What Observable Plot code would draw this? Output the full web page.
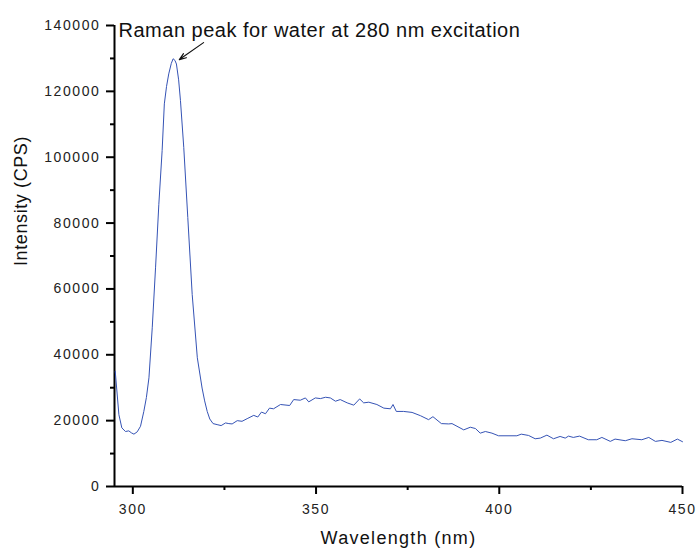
<!DOCTYPE html>
<html><head><meta charset="utf-8">
<script src="https://cdn.jsdelivr.net/npm/d3@7"></script>
<script src="https://cdn.jsdelivr.net/npm/@observablehq/plot@0.6"></script>
<style>
body{margin:0;background:#fff;}
#chart svg{display:block;}
#chart [aria-label="x-axis tick label"] text{letter-spacing:1.6px;}
#chart [aria-label="y-axis tick label"] text{letter-spacing:1.6px;}
</style>
</head><body><div id="chart"></div>
<script>
const wavelength = [295.2,296.2,297.0,298.0,298.9,299.6,300.3,301.2,302.1,303.0,303.7,304.4,305.3,306.2,307.1,308.0,308.6,309.2,309.8,310.5,311.0,311.5,311.9,312.5,313.0,313.9,315.0,316.2,317.6,318.9,319.6,320.3,321.0,321.9,323.0,324.1,325.3,326.2,327.1,328.5,329.8,331.2,333.0,334.1,335.1,336.2,337.3,338.4,340.3,342.8,343.9,345.7,347.1,348.0,349.8,351.2,352.6,353.9,355.3,356.6,358.5,360.3,361.9,363.0,364.4,366.6,368.5,370.3,371.0,371.9,373.9,376.2,378.5,380.7,381.9,384.2,386.2,387.1,390.3,392.1,393.5,394.8,396.2,398.0,399.8,404.8,406.0,408.0,409.8,411.2,413.0,414.8,416.6,418.0,418.9,420.2,421.9,424.3,426.6,428.0,430.3,431.6,434.4,436.2,438.9,440.8,442.6,444.4,446.8,448.6,450.0];
const intensity = [35000,21800,17800,16700,16900,16300,15900,16600,18300,22800,27000,33000,48200,66400,85700,102000,116200,121500,125300,128500,129900,129400,128300,123500,117200,103000,81700,58300,39100,29900,26000,22800,20500,19100,18800,18500,19300,19100,19000,20000,19800,20600,21600,21100,22600,22100,23800,23600,24900,24600,26400,26200,26900,25700,26900,26700,27100,26900,25900,26400,25400,24700,26600,25400,25600,24900,23800,23600,24900,22800,22800,22500,21500,20300,21200,19100,19000,19100,17200,18000,17600,16200,16700,16200,15400,15400,15900,15500,14500,14700,15600,14500,15200,14700,15300,14900,15300,14200,14200,14900,13700,14400,13900,14500,14200,14900,13700,14000,13400,14400,13600];

const xMajorTicks = [300, 350, 400, 450];
const xMinorTicks = [325, 375, 425];
const yMajorTicks = [0, 20000, 40000, 60000, 80000, 100000, 120000, 140000];
const yMinorTicks = [10000, 30000, 50000, 70000, 90000, 110000, 130000];

const xLabel = "Wavelength (nm)";
const yLabel = "Intensity (CPS)";
const annotationText = "Raman peak for water at 280 nm excitation";
const annotationAt = {x: 296.1, y: 138500};
const arrowSeg = {x1: 319.3, y1: 134800, x2: 312.7, y2: 129650};

const data = wavelength.map((w, i) => ({w, v: intensity[i]}));
const font = "'Liberation Sans', Arial, sans-serif";

const chart = Plot.plot({
  width: 696,
  height: 550,
  marginLeft: 114,
  marginRight: 14,
  marginTop: 25,
  marginBottom: 64,
  style: {fontFamily: font, background: "#fff", color: "#000", overflow: "visible"},
  x: {domain: [295, 450]},
  y: {domain: [0, 140000]},
  marks: [
    Plot.axisX({ticks: xMajorTicks, tickSize: 8, tickPadding: 10, tickFormat: d => String(d), fontSize: 14, strokeWidth: 2, fill: "#222", label: null}),
    Plot.axisX({ticks: xMinorTicks, tickSize: 4, tickFormat: () => "", strokeWidth: 2, label: null}),
    Plot.axisY({ticks: yMajorTicks, tickSize: 8, tickPadding: 6, tickFormat: d => String(d), fontSize: 14, strokeWidth: 2, fill: "#222", label: null}),
    Plot.axisY({ticks: yMinorTicks, tickSize: 4, tickFormat: () => "", strokeWidth: 2, label: null}),
    Plot.ruleX([295], {strokeWidth: 2, stroke: "#000"}),
    Plot.ruleY([0], {strokeWidth: 2, stroke: "#000"}),
    Plot.line(data, {x: "w", y: "v", stroke: "#3553b5", strokeWidth: 1}),
    Plot.arrow([arrowSeg], {x1: "x1", y1: "y1", x2: "x2", y2: "y2", stroke: "#111", strokeWidth: 1.2, headLength: 9, headAngle: 40}),
    Plot.text([annotationAt], {x: "x", y: "y", text: () => annotationText, textAnchor: "start", lineAnchor: "middle", fontSize: 20, fill: "#111"}),
    Plot.text([xLabel], {frameAnchor: "bottom", lineAnchor: "top", dy: 45, fontSize: 18, fill: "#111"}),
    Plot.text([yLabel], {frameAnchor: "left", dx: -93, dy: 10, rotate: -90, fontSize: 18, fill: "#111"})
  ]
});

d3.select(chart).selectAll("text").each(function() {
  const t = this.textContent;
  if (t === annotationText) this.style.letterSpacing = "0.5px";
  else if (t === xLabel) this.style.letterSpacing = "1.3px";
  else if (t === yLabel) this.style.letterSpacing = "0.6px";
});

document.getElementById("chart").appendChild(chart);
</script>
</body></html>
